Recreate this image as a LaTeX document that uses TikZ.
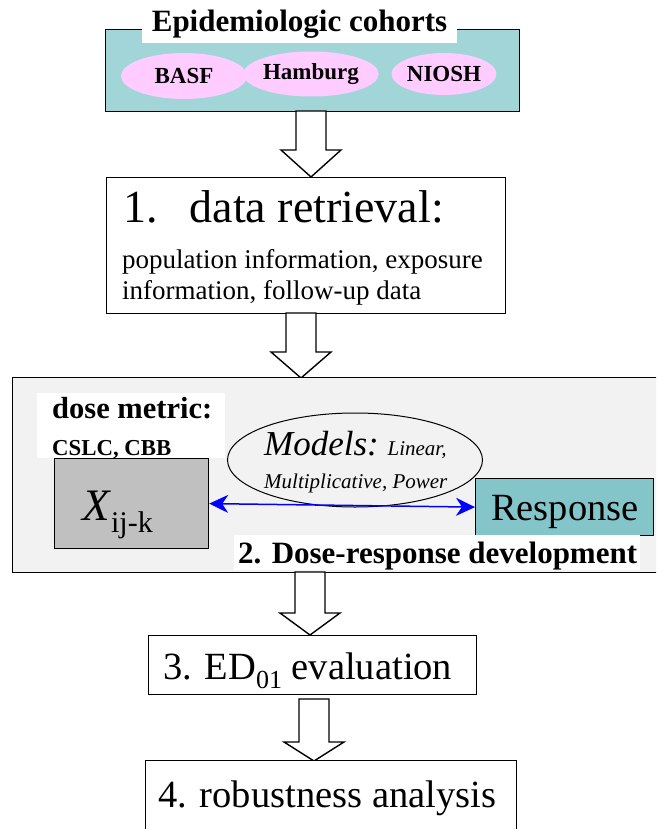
\documentclass[tikz,border=0pt]{standalone}
\usepackage{fontspec}
\setmainfont{Liberation Serif}
\usetikzlibrary{shapes.geometric,arrows.meta,calc}
\definecolor{topteal}{HTML}{A2D5D7}
\definecolor{respteal}{HTML}{84C5C9}
\definecolor{pinkfill}{HTML}{FFCCFF}
\definecolor{xgray}{HTML}{C0C0C0}
\definecolor{biggray}{HTML}{F2F2F2}
\newcommand\fsz[2]{\fontsize{#1}{#2}\selectfont}
\begin{document}
\begin{tikzpicture}[x=1pt,y=-1pt,
  boxed/.style={draw, line width=1.2pt, inner sep=0pt, anchor=north west},
  ell/.style={ellipse, fill=pinkfill, inner sep=0pt},
  txt/.style={inner sep=0pt, anchor=base west},
  blockarr/.style={draw, fill=white, line width=1.4pt, line join=miter},
  bluearr/.style={draw=blue, line width=1.5pt, {Stealth[length=19pt,width=18pt,inset=6pt]}-{Stealth[length=19pt,width=18pt,inset=6pt]}}
]
\useasboundingbox (0,0) rectangle (656,829);
\clip (0,0) rectangle (656,829);
\fill[white] (0,0) rectangle (656,829);

% block arrow command: x centre, y top, y head start, y tip
\newcommand\blockarrow[4]{%
  \draw[blockarr] (#1-15,#2) -- (#1+15,#2) -- (#1+15,#3) -- (#1+30,#3) -- (#1,#4) -- (#1-30,#3) -- (#1-15,#3) -- cycle;}

% cohorts box
\node[boxed, fill=topteal, minimum width=414pt, minimum height=82pt] (cohorts) at (105,29) {};
\node[fill=white, minimum width=315pt, minimum height=38pt, inner sep=0pt] (title) at (299.5,24) {\fsz{31}{31}\bfseries Epidemiologic cohorts};
\node[ell, minimum width=126pt, minimum height=46pt] (basf) at (184,76) {\fsz{23}{23}\bfseries BASF};
\node[ell, minimum width=117pt, minimum height=45pt] (hamb) at (311,74) {\fsz{23}{23}\bfseries Hamburg};
\node[ell, minimum width=92pt, minimum height=42pt] (niosh) at (444,74) {\fsz{23}{23}\bfseries NIOSH};

\blockarrow{311}{111}{150}{177}

% data retrieval box
\node[boxed, fill=white, minimum width=399pt, minimum height=136pt] (retr) at (106,177) {};
\node[txt] (r1) at (123,222) {\fsz{46}{46}1.\hspace{32pt}data retrieval:};
\node[txt] (r2) at (122,268) {\fsz{27}{27}population information, exposure};
\node[txt] (r3) at (122,299) {\fsz{27}{27}information, follow-up data};

\blockarrow{301}{313}{352}{378}

% dose-response box
\node[boxed, fill=biggray, minimum width=660pt, minimum height=195pt] (dr) at (12,377) {};
\node[fill=white, minimum width=188pt, minimum height=65pt, inner sep=0pt, anchor=north west] (dmbg) at (37,393) {};
\node[txt] (dm1) at (52,418) {\fsz{30.5}{30.5}\bfseries dose metric:};
\node[txt] (dm2) at (52,455) {\fsz{22.8}{22.8}\bfseries CSLC, CBB};
\node[boxed, fill=xgray, minimum width=154pt, minimum height=90pt] (xbox) at (54,458) {};
\node[txt] (xt) at (82,520) {\fsz{45}{45}\itshape X\/\raisebox{-12pt}{\fsz{30}{30}\upshape ij-k}};
\node[ellipse, draw, line width=1pt, minimum width=255pt, minimum height=94pt, inner sep=0pt] (models) at (355,460) {};
\node[txt] (m1) at (264,455) {\fsz{35}{35}\itshape Models:\ \fsz{21}{21}Linear,};
\node[txt] (m2) at (264,488) {\fsz{21}{21}\itshape Multiplicative, Power};
\node[boxed, fill=respteal, minimum width=178pt, minimum height=57pt] (resp) at (475,478) {};
\node[txt] (rt) at (491,520) {\fsz{38.5}{38.5}Response};
\draw[bluearr] (xbox.east) -- (resp.west);
\node[fill=white, minimum width=406pt, minimum height=35pt, inner sep=0pt, anchor=north west] (dlbg) at (234,535) {};
\node[txt] (dl) at (238,563) {\fsz{31}{31}\bfseries 2. Dose-response development};

\blockarrow{310}{572}{613}{635}

\node[boxed, fill=white, minimum width=328pt, minimum height=59pt] (ed) at (148,635) {};
\node[txt] (edt) at (163,679) {\fsz{38.5}{38.5}3. ED\raisebox{-9pt}{\fsz{26}{26}01} evaluation};

\blockarrow{314}{699}{742}{761}

\node[boxed, fill=white, minimum width=371pt, minimum height=90pt] (rob) at (145,760) {};
\node[txt] (robt) at (158,807) {\fsz{38.5}{38.5}4. robustness analysis};
\end{tikzpicture}
\end{document}
